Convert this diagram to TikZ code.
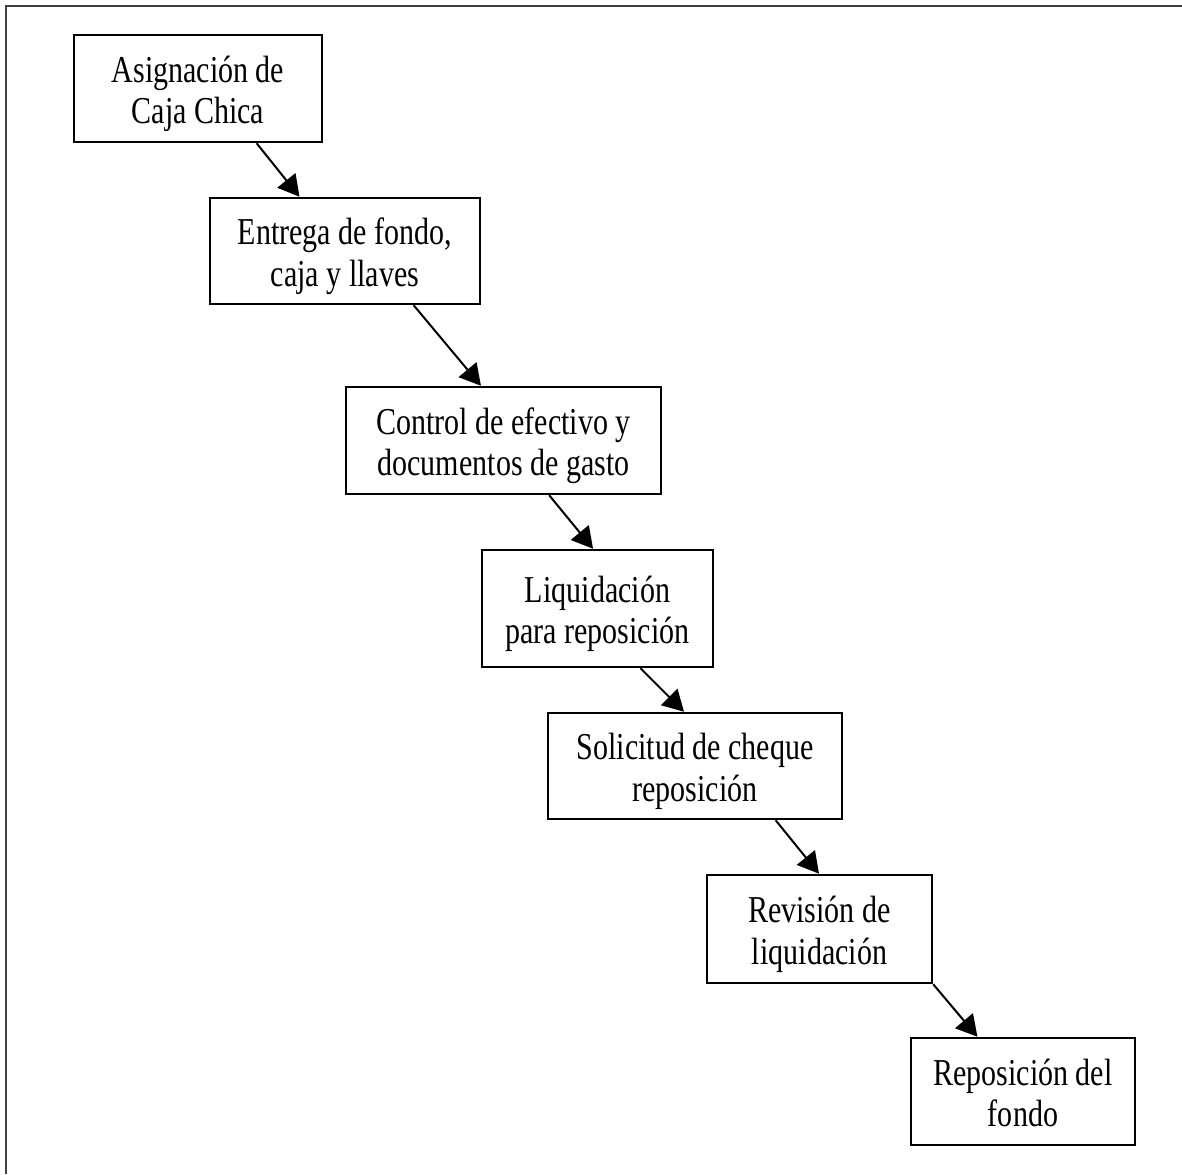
\documentclass[tikz,border=0pt]{standalone}
\usepackage{fontspec}
\setmainfont{Liberation Serif}[FakeStretch=0.79]
\usetikzlibrary{arrows.meta,calc}
% two centred lines, set a little low so that the block from cap top to last baseline sits in the middle
\newcommand\twolines[2]{\raisebox{-3pt}[\height][\depth]{\begin{tabular}{@{}c@{}}#1\\#2\end{tabular}}}
\begin{document}
\begin{tikzpicture}[x=0.5pt,y=-0.5pt,
  stepbox/.style={draw, line width=1.25pt, inner sep=0pt,
    font=\fontsize{19}{20.75}\selectfont},
  flow/.style={line width=1pt, -{Triangle[length=10.5pt,width=11.5pt]}}]
\useasboundingbox (0,0) rectangle (1182,1174);
% frame
\draw[line width=1pt, black!75] (6,1174) -- (6,6) -- (1182,6);
% process steps
\node[stepbox, minimum width=124pt, minimum height=53.5pt] (b1) at (198,88.5) {\twolines{Asignación de}{Caja Chica}};
\node[stepbox, minimum width=135pt, minimum height=53pt] (b2) at (345,251) {\twolines{Entrega de fondo,}{caja y llaves}};
\node[stepbox, minimum width=157.5pt, minimum height=53.5pt] (b3) at (503.5,440.5) {\twolines{Control de efectivo y}{documentos de gasto}};
\node[stepbox, minimum width=115.5pt, minimum height=58.5pt] (b4) at (597.5,608.5) {\twolines{Liquidación}{para reposición}};
\node[stepbox, minimum width=147pt, minimum height=53pt] (b5) at (695,766) {\twolines{Solicitud de cheque}{reposición}};
\node[stepbox, minimum width=112.5pt, minimum height=54pt] (b6) at (819.5,929) {\twolines{Revisión de}{liquidación}};
\node[stepbox, minimum width=112pt, minimum height=53.5pt] (b7) at (1023,1091.5) {\twolines{Reposición del}{fondo}};
% connectors
\draw[flow] ($(b1.south west)!0.734!(b1.south east)$) -- ($(b2.north west)!0.333!(b2.north east)$);
\draw[flow] ($(b2.south west)!0.752!(b2.south east)$) -- ($(b3.north west)!0.429!(b3.north east)$);
\draw[flow] ($(b3.south west)!0.644!(b3.south east)$) -- ($(b4.north west)!0.481!(b4.north east)$);
\draw[flow] ($(b4.south west)!0.684!(b4.south east)$) -- ($(b5.north west)!0.463!(b5.north east)$);
\draw[flow] ($(b5.south west)!0.772!(b5.south east)$) -- ($(b6.north west)!0.498!(b6.north east)$);
\draw[flow] (b6.south east) -- ($(b7.north west)!0.299!(b7.north east)$);
\end{tikzpicture}
\end{document}
